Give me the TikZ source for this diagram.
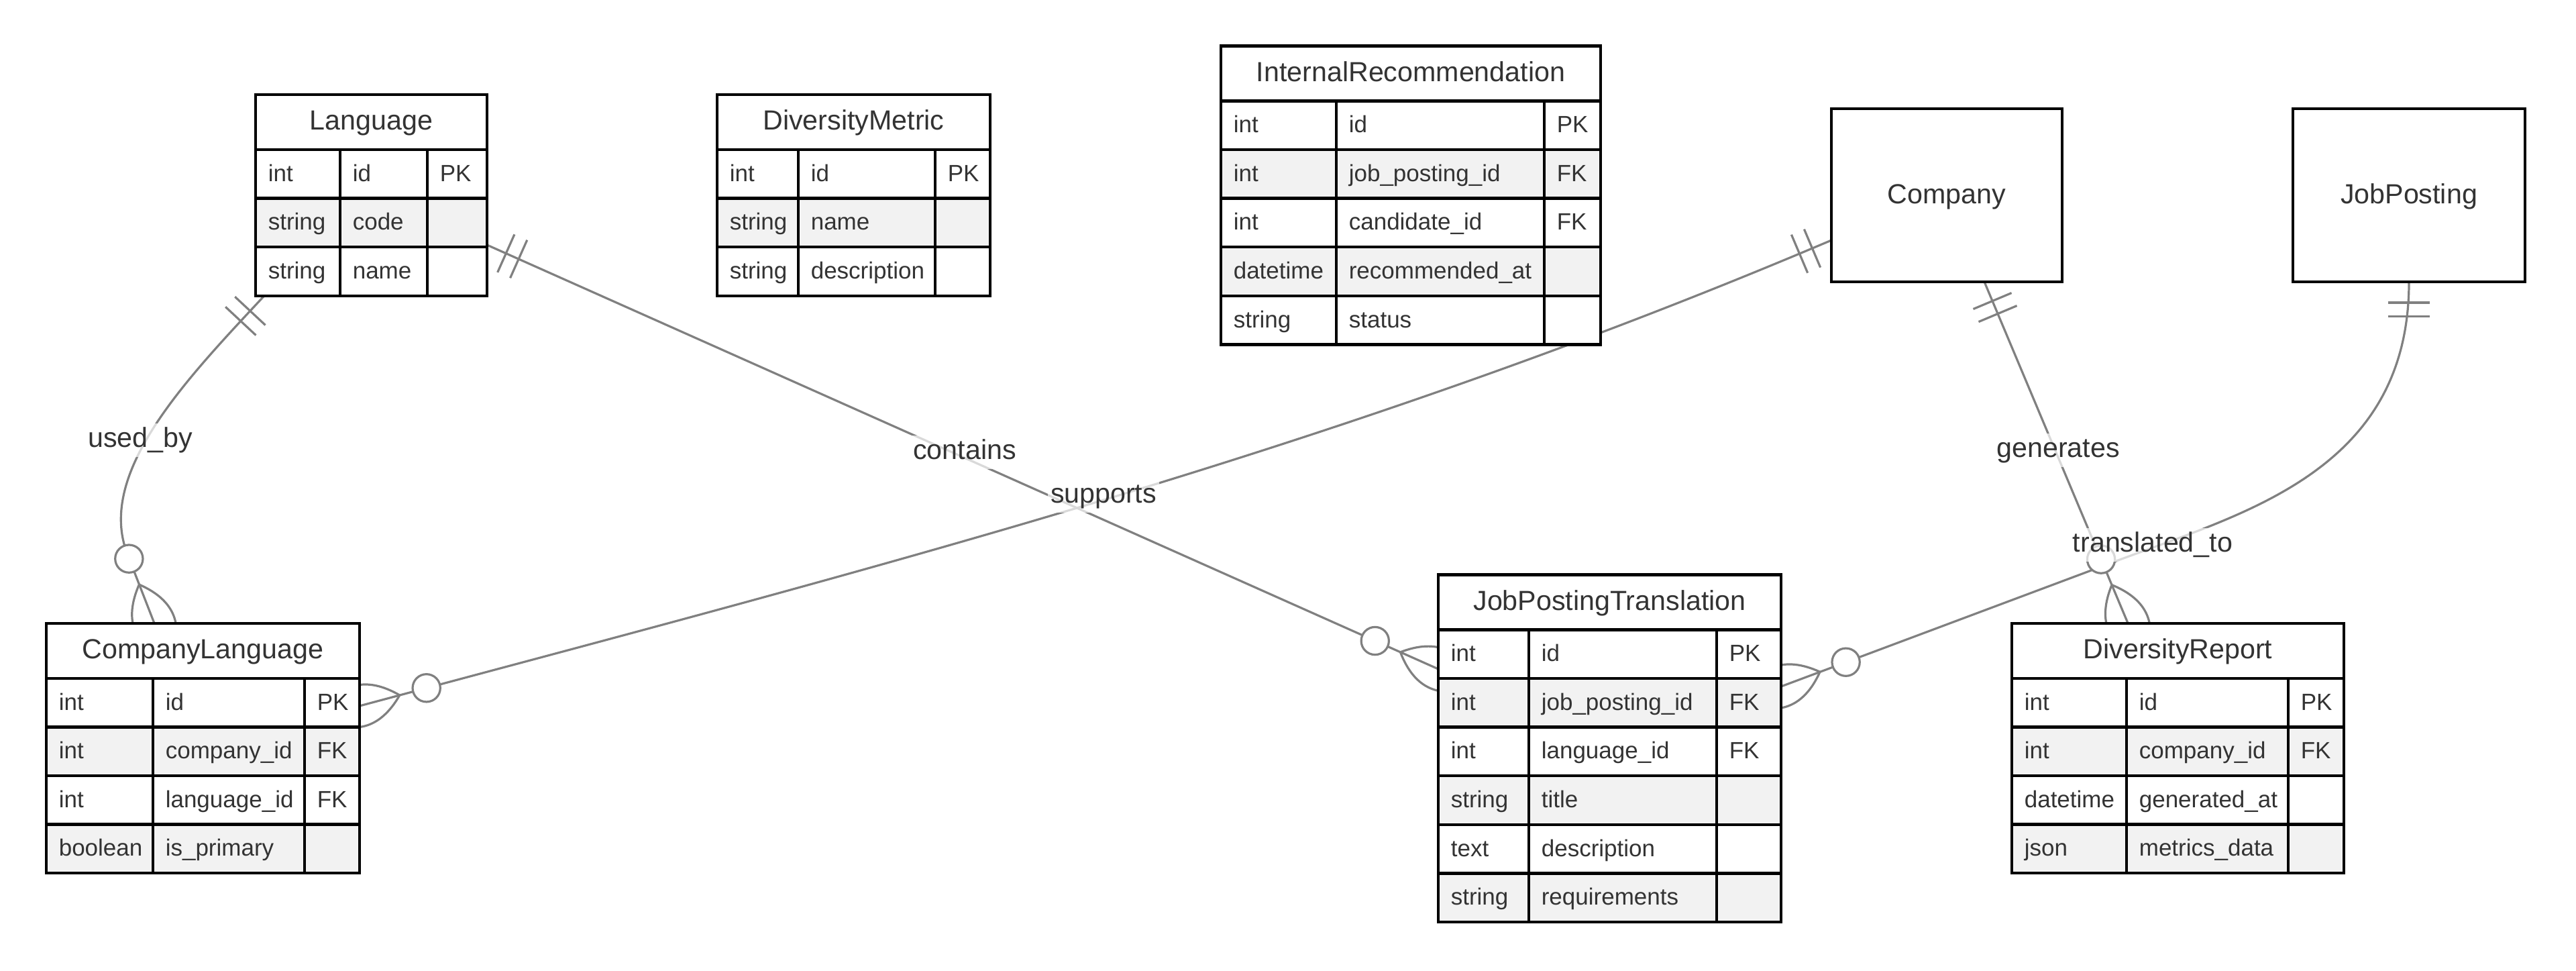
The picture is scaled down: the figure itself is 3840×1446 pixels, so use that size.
\documentclass[tikz,border=0pt]{standalone}
\usepackage{fontspec}
\setmainfont{Liberation Sans}
\usetikzlibrary{calc}

\definecolor{relgrey}{HTML}{808080}
\definecolor{rowgrey}{HTML}{F2F2F2}
\definecolor{txt}{HTML}{333333}

\newcommand{\hdfont}{\fontsize{10.3}{12.4}\selectfont}
\newcommand{\atfont}{\fontsize{8.75}{10.5}\selectfont}
\newcommand{\erhead}{82}
\newcommand{\errow}{72.6}
\newcommand{\mkscale}{3.44}

\pgfdeclarelayer{paper}
\pgfdeclarelayer{links}
\pgfsetlayers{paper,links,main}

\tikzset{
  tablebg/.style={fill=white, draw=none, inner sep=0pt, outer sep=0pt},
  tline/.style={draw=black, line width=1.1pt},
  hdtext/.style={font=\hdfont, text=txt, inner sep=0pt, anchor=base},
  attext/.style={font=\atfont, text=txt, inner sep=0pt, anchor=base west},
  relline/.style={draw=relgrey, line width=0.8pt},
  rellabel/.style={font=\hdfont, text=txt, fill=white, fill opacity=0.7,
    text opacity=1, inner xsep=1pt, inner ysep=1.5pt,
    text height=0.72em, text depth=0.21em},
}

% entity table: #1 name, #2 left, #3 first rule, #4 second rule, #5 right,
% #6 top, #7 number of rows, #8 title, #9 rows as type/name/key
\newcommand{\ertable}[9]{%
  \pgfmathsetmacro{\etbot}{#6+\erhead+\errow*#7}%
  \node[tablebg, anchor=north west, minimum width={(#5-#2)*0.25pt},
        minimum height={(\etbot-#6)*0.25pt}] (#1) at (#2,#6) {};
  \node[hdtext] (#1-title) at ({(#2+#5)/2},{#6+\erhead/2+12}) {#8};
  \foreach \ty/\nm/\ky [count=\i from 0] in {#9} {%
    \pgfmathsetmacro{\ya}{#6+\erhead+\errow*\i}%
    \pgfmathtruncatemacro{\rowpar}{mod(\i,2)}%
    \ifnum\rowpar=1 \fill[rowgrey] (#2,\ya) rectangle (#5,\ya+\errow);\fi
    \draw[tline] (#2,\ya) -- (#5,\ya);
    \node[attext] (#1-t\i) at (#2+18,\ya+\errow/2+11) {\ty};
    \node[attext] (#1-n\i) at (#3+18,\ya+\errow/2+11) {\nm};
    \node[attext] (#1-k\i) at (#4+18,\ya+\errow/2+11) {\ky};
  }
  \draw[tline] (#3,#6+\erhead) -- (#3,\etbot) (#4,#6+\erhead) -- (#4,\etbot);
  \draw[tline] (#1.north west) rectangle (#1.south east);
}

% exactly-one end: #1 point on the entity, #2 direction leaving the entity
\newcommand{\onemark}[2]{%
  \draw[relline] ($(#1)+(#2:9*\mkscale)+(#2+90:9*\mkscale)$) -- ($(#1)+(#2:9*\mkscale)+(#2+90:-9*\mkscale)$)
                 ($(#1)+(#2:15*\mkscale)+(#2+90:9*\mkscale)$) -- ($(#1)+(#2:15*\mkscale)+(#2+90:-9*\mkscale)$);
}
% zero-or-more end: #1 point on the entity, #2 direction entering the entity
\newcommand{\manymark}[2]{%
  \draw[relline] ($(#1)+(#2:-18*\mkscale)$)
    .. controls ($(#1)+(#2:-6*\mkscale)+(#2+90:-12*\mkscale)$) and ($(#1)+(#2:6*\mkscale)+(#2+90:-12*\mkscale)$) .. ($(#1)+(#2:18*\mkscale)$)
    .. controls ($(#1)+(#2:6*\mkscale)+(#2+90:12*\mkscale)$) and ($(#1)+(#2:-6*\mkscale)+(#2+90:12*\mkscale)$) .. ($(#1)+(#2:-18*\mkscale)$);
  \draw[relline, fill=white] ($(#1)+(#2:-30*\mkscale)$) circle[radius=6*\mkscale];
}

\begin{document}
\begin{tikzpicture}[x=0.25pt, y=-0.25pt]
\begin{pgfonlayer}{paper}
  \fill[white] (0,0) rectangle (3840,1446);
\end{pgfonlayer}
\useasboundingbox (0,0) rectangle (3840,1446);

% ---- entities ----
\ertable{lang}{381}{507}{637}{726}{140.9}{3}{Language}%
  {int/id/PK, string/code/{}, string/name/{}}
\ertable{dm}{1069}{1190}{1394}{1476}{140.9}{3}{DiversityMetric}%
  {int/id/PK, string/name/{}, string/description/{}}
\ertable{ir}{1820}{1992}{2302}{2386}{68.4}{5}{InternalRecommendation}%
  {int/id/PK, int/job\_posting\_id/FK, int/candidate\_id/FK, datetime/recommended\_at/{}, string/status/{}}
\ertable{cl}{69}{228}{454}{536}{928.7}{4}{CompanyLanguage}%
  {int/id/PK, int/company\_id/FK, int/language\_id/FK, boolean/is\_primary/{}}
\ertable{jpt}{2144}{2279}{2559}{2655}{856.3}{6}{JobPostingTranslation}%
  {int/id/PK, int/job\_posting\_id/FK, int/language\_id/FK, string/title/{}, text/description/{}, string/requirements/{}}
\ertable{dr}{2999}{3170}{3411}{3494}{928.7}{4}{DiversityReport}%
  {int/id/PK, int/company\_id/FK, datetime/generated\_at/{}, json/metrics\_data/{}}

\node[tablebg, anchor=north west, minimum width=86pt, minimum height=64.5pt] (comp) at (2730,162) {};
\draw[tline] (comp.north west) rectangle (comp.south east);
\node[hdtext] (comp-title) at ($(comp.center)+(0,12)$) {Company};

\node[tablebg, anchor=north west, minimum width=86.5pt, minimum height=64.5pt] (jp) at (3418,162) {};
\draw[tline] (jp.north west) rectangle (jp.south east);
\node[hdtext] (jp-title) at ($(jp.center)+(0,12)$) {JobPosting};

% ---- attachment points ----
\coordinate (ub-s) at ($(lang.south west)+(13,0)$);
\coordinate (ub-m) at (190,826);
\coordinate (ub-e) at ($(cl.north west)+(161,0)$);
\coordinate (ct-s) at ($(lang.north east)+(0,224.1)$);
\coordinate (ct-e) at ($(jpt.north west)+(0,140.7)$);
\coordinate (sp-s) at ($(comp.north west)+(0,196)$);
\coordinate (sp-e) at ($(cl.north east)+(0,123.3)$);
\coordinate (gn-s) at ($(comp.south west)+(228,0)$);
\coordinate (gn-e) at ($(dr.north west)+(173,0)$);
\coordinate (tr-s) at (jp.south);
\coordinate (tr-m) at (3160,834);
\coordinate (tr-e) at ($(jpt.north east)+(0,166.7)$);

% ---- relationships ----
\begin{pgfonlayer}{links}
  \draw[relline] (ub-s) .. controls ($(ub-s)+(133:170)$) and ($(ub-m)+(248.6:130)$) .. (ub-m) -- (ub-e);
  \draw[relline] (ct-s) -- (ct-e);
  \draw[relline] (sp-s) .. controls ($(sp-s)+(157:800)$) and ($(sp-e)+(-15:800)$) .. (sp-e);
  \draw[relline] (gn-s) -- (gn-e);
  \draw[relline] (tr-s) .. controls ($(tr-s)+(0,280)$) and ($(tr-m)+(-20.5:200)$) .. (tr-m) -- (tr-e);

  \onemark{ub-s}{133}   \manymark{ub-e}{68.6}
  \onemark{ct-s}{24}    \manymark{ct-e}{24}
  \onemark{sp-s}{157}   \manymark{sp-e}{165}
  \onemark{gn-s}{67.2}  \manymark{gn-e}{67.2}
  \onemark{tr-s}{90}    \manymark{tr-e}{159.4}
\end{pgfonlayer}

% ---- relationship labels ----
\node[rellabel] (lb-ub) at (209,656) {used\_by};
\node[rellabel] (lb-ct) at (1438,674) {contains};
\node[rellabel] (lb-sp) at (1645,739) {supports};
\node[rellabel] (lb-gn) at (3068,671) {generates};
\node[rellabel] (lb-tr) at (3209,812) {translated\_to};
\end{tikzpicture}
\end{document}
